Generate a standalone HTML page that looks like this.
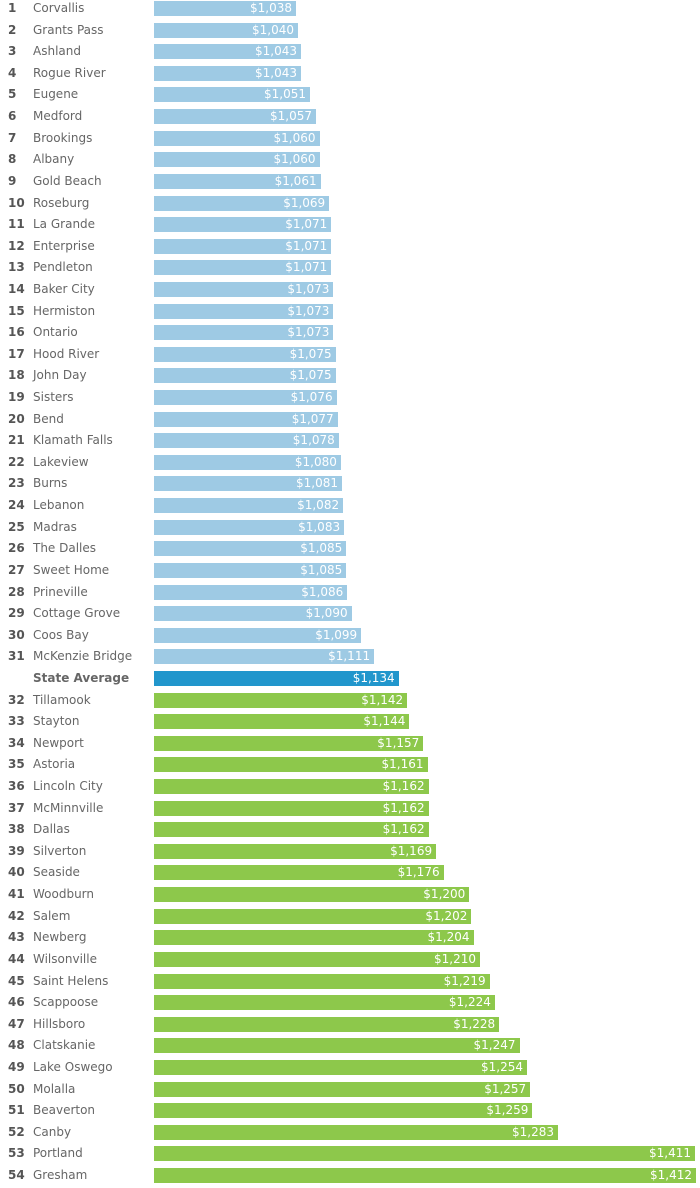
<!DOCTYPE html>
<html><head><meta charset="utf-8"><style>
body{margin:0;width:700px;height:1185px;background:#fff;font-family:"Liberation Sans",sans-serif;position:relative;overflow:hidden}
.r{position:absolute;left:0;width:700px;height:21px}
.n{position:absolute;left:8px;top:0;font-size:12px;font-weight:bold;color:#555;line-height:16px;font-family:"DejaVu Sans",sans-serif}
.c{position:absolute;left:33px;top:0;font-size:12px;color:#666;line-height:16px;font-family:"DejaVu Sans",sans-serif}
.b{position:absolute;left:154px;top:1px;height:15px;background:#9ecae4;color:#fff;font-size:12px;line-height:15px;text-align:right;box-sizing:border-box;padding-right:4px;font-family:"DejaVu Sans",sans-serif}
.g .b{background:#8dc84b}
.a .b{background:#2196cc}
.a .c{font-weight:bold}
</style></head><body>
<div class="r" style="top:0px"><span class="n">1</span><span class="c">Corvallis</span><div class="b" style="width:142px">$1,038</div></div>
<div class="r" style="top:21.6px"><span class="n">2</span><span class="c">Grants Pass</span><div class="b" style="width:144px">$1,040</div></div>
<div class="r" style="top:43.2px"><span class="n">3</span><span class="c">Ashland</span><div class="b" style="width:147px">$1,043</div></div>
<div class="r" style="top:64.8px"><span class="n">4</span><span class="c">Rogue River</span><div class="b" style="width:147px">$1,043</div></div>
<div class="r" style="top:86.4px"><span class="n">5</span><span class="c">Eugene</span><div class="b" style="width:156px">$1,051</div></div>
<div class="r" style="top:108px"><span class="n">6</span><span class="c">Medford</span><div class="b" style="width:162px">$1,057</div></div>
<div class="r" style="top:129.7px"><span class="n">7</span><span class="c">Brookings</span><div class="b" style="width:165.5px">$1,060</div></div>
<div class="r" style="top:151.3px"><span class="n">8</span><span class="c">Albany</span><div class="b" style="width:165.5px">$1,060</div></div>
<div class="r" style="top:172.9px"><span class="n">9</span><span class="c">Gold Beach</span><div class="b" style="width:166.6px">$1,061</div></div>
<div class="r" style="top:194.5px"><span class="n">10</span><span class="c">Roseburg</span><div class="b" style="width:175.2px">$1,069</div></div>
<div class="r" style="top:216.1px"><span class="n">11</span><span class="c">La Grande</span><div class="b" style="width:177.3px">$1,071</div></div>
<div class="r" style="top:237.7px"><span class="n">12</span><span class="c">Enterprise</span><div class="b" style="width:177.3px">$1,071</div></div>
<div class="r" style="top:259.3px"><span class="n">13</span><span class="c">Pendleton</span><div class="b" style="width:177.3px">$1,071</div></div>
<div class="r" style="top:280.9px"><span class="n">14</span><span class="c">Baker City</span><div class="b" style="width:179.4px">$1,073</div></div>
<div class="r" style="top:302.5px"><span class="n">15</span><span class="c">Hermiston</span><div class="b" style="width:179.4px">$1,073</div></div>
<div class="r" style="top:324.1px"><span class="n">16</span><span class="c">Ontario</span><div class="b" style="width:179.4px">$1,073</div></div>
<div class="r" style="top:345.8px"><span class="n">17</span><span class="c">Hood River</span><div class="b" style="width:181.6px">$1,075</div></div>
<div class="r" style="top:367.4px"><span class="n">18</span><span class="c">John Day</span><div class="b" style="width:181.6px">$1,075</div></div>
<div class="r" style="top:389px"><span class="n">19</span><span class="c">Sisters</span><div class="b" style="width:182.6px">$1,076</div></div>
<div class="r" style="top:410.6px"><span class="n">20</span><span class="c">Bend</span><div class="b" style="width:183.7px">$1,077</div></div>
<div class="r" style="top:432.2px"><span class="n">21</span><span class="c">Klamath Falls</span><div class="b" style="width:184.8px">$1,078</div></div>
<div class="r" style="top:453.8px"><span class="n">22</span><span class="c">Lakeview</span><div class="b" style="width:186.9px">$1,080</div></div>
<div class="r" style="top:475.4px"><span class="n">23</span><span class="c">Burns</span><div class="b" style="width:188px">$1,081</div></div>
<div class="r" style="top:497px"><span class="n">24</span><span class="c">Lebanon</span><div class="b" style="width:189.1px">$1,082</div></div>
<div class="r" style="top:518.6px"><span class="n">25</span><span class="c">Madras</span><div class="b" style="width:190.1px">$1,083</div></div>
<div class="r" style="top:540.3px"><span class="n">26</span><span class="c">The Dalles</span><div class="b" style="width:192.3px">$1,085</div></div>
<div class="r" style="top:561.9px"><span class="n">27</span><span class="c">Sweet Home</span><div class="b" style="width:192.3px">$1,085</div></div>
<div class="r" style="top:583.5px"><span class="n">28</span><span class="c">Prineville</span><div class="b" style="width:193.3px">$1,086</div></div>
<div class="r" style="top:605.1px"><span class="n">29</span><span class="c">Cottage Grove</span><div class="b" style="width:197.6px">$1,090</div></div>
<div class="r" style="top:626.7px"><span class="n">30</span><span class="c">Coos Bay</span><div class="b" style="width:207.2px">$1,099</div></div>
<div class="r" style="top:648.3px"><span class="n">31</span><span class="c">McKenzie Bridge</span><div class="b" style="width:220.1px">$1,111</div></div>
<div class="r a" style="top:669.9px"><span class="c">State Average</span><div class="b" style="width:244.7px">$1,134</div></div>
<div class="r g" style="top:691.5px"><span class="n">32</span><span class="c">Tillamook</span><div class="b" style="width:253.2px">$1,142</div></div>
<div class="r g" style="top:713.1px"><span class="n">33</span><span class="c">Stayton</span><div class="b" style="width:255.4px">$1,144</div></div>
<div class="r g" style="top:734.7px"><span class="n">34</span><span class="c">Newport</span><div class="b" style="width:269.3px">$1,157</div></div>
<div class="r g" style="top:756.4px"><span class="n">35</span><span class="c">Astoria</span><div class="b" style="width:273.5px">$1,161</div></div>
<div class="r g" style="top:778px"><span class="n">36</span><span class="c">Lincoln City</span><div class="b" style="width:274.6px">$1,162</div></div>
<div class="r g" style="top:799.6px"><span class="n">37</span><span class="c">McMinnville</span><div class="b" style="width:274.6px">$1,162</div></div>
<div class="r g" style="top:821.2px"><span class="n">38</span><span class="c">Dallas</span><div class="b" style="width:274.6px">$1,162</div></div>
<div class="r g" style="top:842.8px"><span class="n">39</span><span class="c">Silverton</span><div class="b" style="width:282.1px">$1,169</div></div>
<div class="r g" style="top:864.4px"><span class="n">40</span><span class="c">Seaside</span><div class="b" style="width:289.6px">$1,176</div></div>
<div class="r g" style="top:886px"><span class="n">41</span><span class="c">Woodburn</span><div class="b" style="width:315.3px">$1,200</div></div>
<div class="r g" style="top:907.6px"><span class="n">42</span><span class="c">Salem</span><div class="b" style="width:317.4px">$1,202</div></div>
<div class="r g" style="top:929.2px"><span class="n">43</span><span class="c">Newberg</span><div class="b" style="width:319.5px">$1,204</div></div>
<div class="r g" style="top:950.9px"><span class="n">44</span><span class="c">Wilsonville</span><div class="b" style="width:326px">$1,210</div></div>
<div class="r g" style="top:972.5px"><span class="n">45</span><span class="c">Saint Helens</span><div class="b" style="width:335.6px">$1,219</div></div>
<div class="r g" style="top:994.1px"><span class="n">46</span><span class="c">Scappoose</span><div class="b" style="width:340.9px">$1,224</div></div>
<div class="r g" style="top:1015.7px"><span class="n">47</span><span class="c">Hillsboro</span><div class="b" style="width:345.2px">$1,228</div></div>
<div class="r g" style="top:1037.3px"><span class="n">48</span><span class="c">Clatskanie</span><div class="b" style="width:365.5px">$1,247</div></div>
<div class="r g" style="top:1058.9px"><span class="n">49</span><span class="c">Lake Oswego</span><div class="b" style="width:373px">$1,254</div></div>
<div class="r g" style="top:1080.5px"><span class="n">50</span><span class="c">Molalla</span><div class="b" style="width:376.2px">$1,257</div></div>
<div class="r g" style="top:1102.1px"><span class="n">51</span><span class="c">Beaverton</span><div class="b" style="width:378.4px">$1,259</div></div>
<div class="r g" style="top:1123.7px"><span class="n">52</span><span class="c">Canby</span><div class="b" style="width:404px">$1,283</div></div>
<div class="r g" style="top:1145.3px"><span class="n">53</span><span class="c">Portland</span><div class="b" style="width:541px">$1,411</div></div>
<div class="r g" style="top:1167px"><span class="n">54</span><span class="c">Gresham</span><div class="b" style="width:542px">$1,412</div></div>
</body></html>
